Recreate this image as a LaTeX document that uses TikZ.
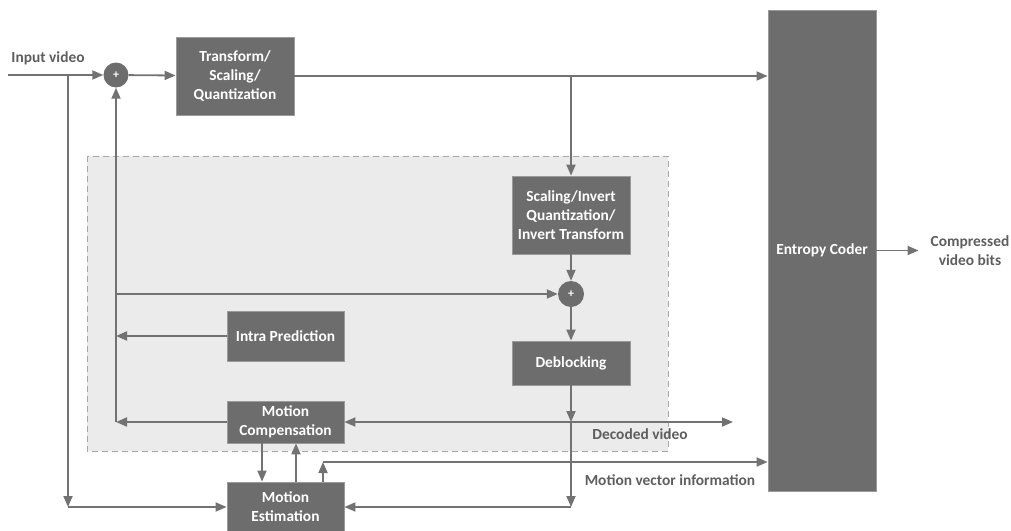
\documentclass[tikz,border=0pt]{standalone}
\usepackage{fontspec}
\setmainfont{Carlito}
\usetikzlibrary{arrows.meta}
\definecolor{boxgray}{HTML}{6D6D6D}
\definecolor{boxedge}{HTML}{9A9A9A}
\definecolor{linegray}{HTML}{727272}
\definecolor{txtgray}{HTML}{5E5E5E}
\definecolor{regionfill}{HTML}{EBEBEB}
\definecolor{regionline}{HTML}{A8A8A8}
\begin{document}
\begin{tikzpicture}[x=1pt,y=-1pt,
  block/.style={fill=boxgray, draw=boxedge, line width=0.8pt, text=white,
    font=\bfseries\fontsize{15.4}{19}\selectfont, align=center, inner sep=0pt},
  lbl/.style={text=txtgray, font=\bfseries\fontsize{15.4}{19}\selectfont,
    align=center, inner sep=0pt},
  conn/.style={draw=linegray, line width=1.8pt},
  arr/.style={conn, -{Triangle[length=11pt,width=9pt]}},
  adder/.style={circle, fill=boxgray, minimum size=25pt, inner sep=0pt,
    text=white, font=\bfseries\fontsize{12}{12}\selectfont}
]
\useasboundingbox (0,0) rectangle (1011,530);

% reconstruction loop area
\draw[fill=regionfill, draw=regionline, line width=1pt, dash pattern=on 6pt off 4pt]
  (87,156) rectangle (668,451);

% blocks
\node[block, minimum width=118, minimum height=78] (tsq) at (235,76)
  {Transform/\\Scaling/\\Quantization};
\node[block, minimum width=108, minimum height=481] (ent) at (822,250.5)
  {Entropy Coder};
\node[block, minimum width=118, minimum height=78] (siq) at (571,215)
  {Scaling/Invert\\Quantization/\\Invert Transform};
\node[block, minimum width=118, minimum height=44] (deb) at (571,363) {Deblocking};
\node[block, minimum width=117, minimum height=50] (intra) at (285.5,336) {Intra Prediction};
\node[block, minimum width=117, minimum height=42] (mc) at (285.5,422) {Motion\\Compensation};
\node[block, minimum width=117, minimum height=50] (me) at (285.5,507) {Motion\\Estimation};

\node[adder] (s1) at (116,75) {+};
\node[adder, minimum size=26pt] (s2) at (571,294) {+};

% labels
\node[lbl] (inlbl) at (48,58) {Input video};
\node[lbl] (cvb) at (970,251) {Compressed\\video bits};
\node[lbl] (dvlbl) at (640,434) {Decoded video};
\node[lbl] (mvlbl) at (670,480) {Motion vector information};

% junction points
\coordinate (inL) at (8,75);
\coordinate (tap) at (68,75);
\coordinate (meL) at (68,507);
\coordinate (br) at (571,75);
\coordinate (dv) at (571,422);
\coordinate (meR) at (571,507);
\coordinate (dvout) at (733,422);
\coordinate (mvt) at (323,462);
\coordinate (fbk) at (116,422);
\coordinate (add2) at (116,294);

% forward path
\draw[arr] (inL) -- (s1);
\draw[arr] (s1) -- (tsq);
\draw[arr] (tsq.east) -- (tsq.east -| ent.west);
\draw[arr] (br) -- (siq);
\draw[arr] (siq) -- (s2);
\draw[arr] (s2) -- (deb);
\draw[arr] (deb) -- (dv);
\draw[arr] (dv) -- (meR);
\draw[arr] (meR) -- (me.east);
\draw[arr] (dv) -- (mc.east);
\draw[arr] (dv) -- (dvout);
\draw[arr, shorten >=12pt] (ent.east) -- (ent.east -| cvb.west);

% input to motion estimation
\draw[arr] (tap) -- (meL);
\draw[arr] (meL) -- (me.west);

% motion estimation / compensation
\draw[arr] ([xshift=-23.5pt]mc.south) -- ([xshift=-23.5pt]me.north);
\draw[arr] ([xshift=10.5pt]me.north) -- ([xshift=10.5pt]mc.south);
\draw[arr] (mvt |- me.north) -- (mvt);
\draw[arr] (mvt) -- (mvt -| ent.west);

% prediction feedback
\draw[arr] (mc.west) -- (fbk);
\draw[arr] (intra.west) -- (intra.west -| fbk);
\draw[arr] (fbk) -- (s1.south);
\draw[arr] (add2) -- (s2.west);
\end{tikzpicture}
\end{document}
